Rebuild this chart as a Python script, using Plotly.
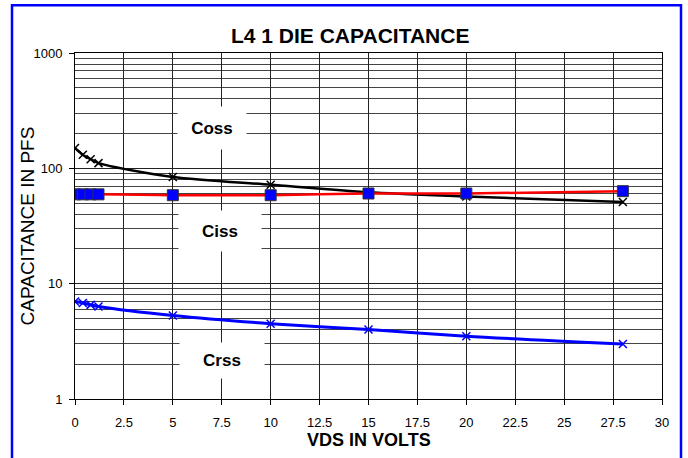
import plotly.graph_objects as go

# ---- data ----
vds = [0, 0.4, 0.8, 1.2, 5, 10, 15, 20, 28]
coss = [150, 131, 120, 111, 84, 72, 62, 57, 51]
ciss = [59.5, 59.5, 59.5, 59.5, 58.5, 58.5, 60.5, 60.5, 63.4]
crss = [7.0, 6.8, 6.55, 6.35, 5.3, 4.5, 4.0, 3.5, 3.0]

x_ticks = [0, 2.5, 5, 7.5, 10, 12.5, 15, 17.5, 20, 22.5, 25, 27.5, 30]
x_tick_text = ["0", "2.5", "5", "7.5", "10", "12.5", "15", "17.5", "20", "22.5", "25", "27.5", "30"]
y_major = [1, 10, 100, 1000]
y_major_text = ["1", "10", "100", "1000"]
y_minor = [m * d for d in (1, 10, 100) for m in range(2, 10)]

title_text = "L4 1 DIE CAPACITANCE"
x_title = "VDS IN VOLTS"
y_title = "CAPACITANCE IN PFS"
series_labels = ["Coss", "Ciss", "Crss"]

FONT = "Liberation Sans, Arial, sans-serif"

fig = go.Figure()
fig.add_trace(go.Scatter(
    x=vds, y=coss, name="Coss", mode="lines+markers",
    line=dict(color="black", width=2.5, shape="spline", smoothing=0.8),
    marker=dict(symbol="x-thin", size=8, line=dict(color="black", width=1.5)),
))
fig.add_trace(go.Scatter(
    x=vds, y=ciss, name="Ciss", mode="lines+markers",
    line=dict(color="#ff0000", width=2.5, shape="spline", smoothing=0.8),
    marker=dict(symbol="square", size=11, color="#0000ff", line=dict(color="#333333", width=1)),
))
fig.add_trace(go.Scatter(
    x=vds, y=crss, name="Crss", mode="lines+markers",
    line=dict(color="#0000ff", width=3, shape="spline", smoothing=0.8),
    marker=dict(symbol="x-thin", size=8, line=dict(color="#0000ff", width=1.5)),
))

# label boxes (white background hides the grid behind them)
label_pos = [(0.233, 0.783, 66, 40), (0.247, 0.485, 80, 38), (0.250, 0.110, 82, 33)]
annotations = []
for lab, (px, py, w, h) in zip(series_labels, label_pos):
    annotations.append(dict(
        text="<b>%s</b>" % lab, xref="paper", yref="paper", x=px, y=py,
        xanchor="center", yanchor="middle", showarrow=False,
        width=w, height=h, bgcolor="white",
        font=dict(family=FONT, size=17, color="black"),
    ))
annotations.append(dict(
    text="<b>%s</b>" % title_text, xref="paper", yref="paper", x=0.4685, y=1.052,
    xanchor="center", yanchor="middle", showarrow=False,
    font=dict(family=FONT, size=21, color="black"),
))
annotations.append(dict(
    text="<b>%s</b>" % x_title, xref="paper", yref="paper", x=0.5, y=-0.118,
    xanchor="center", yanchor="middle", showarrow=False,
    font=dict(family=FONT, size=18, color="black"),
))
annotations.append(dict(
    text=y_title, xref="paper", yref="paper", x=-0.081, y=0.5, textangle=-90,
    xanchor="center", yanchor="middle", showarrow=False,
    font=dict(family=FONT, size=19, color="black"),
))

fig.update_layout(
    width=688, height=458,
    margin=dict(l=75, r=26, t=53, b=59),
    paper_bgcolor="white", plot_bgcolor="white",
    showlegend=False,
    annotations=annotations,
    shapes=[dict(type="rect", xref="paper", yref="paper",
                 x0=(12 - 75) / 587, x1=(681 - 75) / 587,
                 y0=(399 - 470) / 346.3, y1=(399 - 5) / 346.3,
                 line=dict(color="#0000ff", width=2.5), layer="below")],
    xaxis=dict(
        range=[0, 30], tickvals=x_ticks, ticktext=x_tick_text,
        showgrid=True, gridcolor="#222222", gridwidth=1, zeroline=False,
        showline=True, linecolor="black", linewidth=1, mirror=True,
        ticks="outside", ticklen=5, tickcolor="black",
        ticklabelstandoff=6,
        tickfont=dict(family=FONT, size=13, color="black"),
    ),
    yaxis=dict(
        type="log", range=[0, 3], tickvals=y_major, ticktext=y_major_text,
        showgrid=True, gridcolor="#222222", gridwidth=1,
        showline=True, linecolor="black", linewidth=1, mirror=True,
        ticks="outside", ticklen=5, tickcolor="black",
        ticklabelstandoff=4,
        tickfont=dict(family=FONT, size=13, color="black"),
        minor=dict(tickvals=y_minor, showgrid=True, gridcolor="#444444", gridwidth=1, ticks=""),
    ),
)

fig.write_html(
    "out.html",
    config={"displayModeBar": False},
    post_script="document.body.style.margin='0';document.body.style.overflow='hidden';",
)
